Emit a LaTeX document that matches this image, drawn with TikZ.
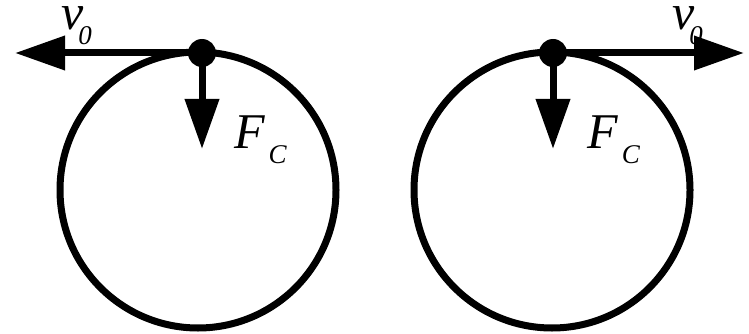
\documentclass[tikz,border=0pt]{standalone}
\usepackage{fontspec}
\setmainfont{Liberation Serif}
\usetikzlibrary{arrows.meta}
\tikzset{
  ring/.style={draw, line width=7pt},
  dotnode/.style={circle, fill=black, inner sep=0pt, minimum size=28pt},
  vec/.style={line width=7pt, -{Triangle[length=50pt, width=33pt]}},
  lbl/.style={inner sep=0pt, anchor=base west, font=\fontsize{50}{50}\selectfont\itshape}
}
\newcommand{\subtxt}[1]{\raisebox{-15pt}{\fontsize{27}{27}\selectfont #1}}
\begin{document}
\begin{tikzpicture}[x=1pt,y=-1pt]
\useasboundingbox (0,0) rectangle (749,334);
% left
\draw[ring] (198,190) circle (138);
\node[dotnode] (p1) at (202,53) {};
\coordinate (v1) at (15,53);
\coordinate (f1) at (202,149);
\draw[vec] (p1.center) -- (v1);
\draw[vec] (p1.center) -- (f1);
\node[lbl] (lv1) at (61,30) {v\kern-5pt\subtxt{0}};
\node[lbl] (lf1) at (234,148) {F\kern4pt\subtxt{C}};
% right
\draw[ring] (552,190) circle (138);
\node[dotnode] (p2) at (553,53) {};
\coordinate (v2) at (744,53);
\coordinate (f2) at (553,149);
\draw[vec] (p2.center) -- (v2);
\draw[vec] (p2.center) -- (f2);
\node[lbl] (lv2) at (672,30) {v\kern-5pt\subtxt{0}};
\node[lbl] (lf2) at (587,148) {F\kern4pt\subtxt{C}};
\end{tikzpicture}
\end{document}
